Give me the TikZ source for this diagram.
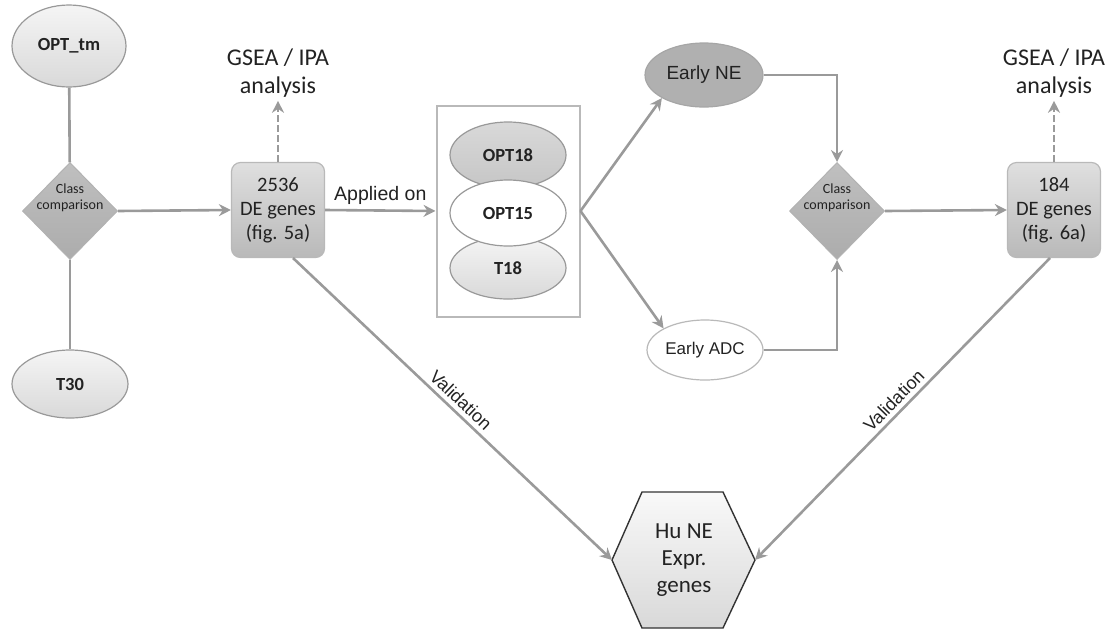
\documentclass[tikz,border=0pt]{standalone}
\usepackage{fontspec}
\setmainfont{Carlito}
\newfontfamily\arialf{Liberation Sans}
\usetikzlibrary{shapes.geometric,arrows.meta}
\definecolor{linegray}{HTML}{9A9A9A}
\definecolor{txt}{HTML}{222222}
\begin{document}
\begin{tikzpicture}[x=1pt,y=-1pt,
  conn/.style={draw=linegray, line width=2.6pt},
  arr/.style={conn, -{Stealth[length=12pt,width=12pt,inset=4pt]}},
  dasharr/.style={arr, dashed, dash pattern=on 7pt off 3pt},
  oval/.style={ellipse, draw=gray!80, line width=1.2pt, inner sep=0pt, text=txt, font=\bfseries\fontsize{18.5}{20}\selectfont},
  greyoval/.style={oval, top color=gray!8, bottom color=gray!30},
  degbox/.style={rectangle, rounded corners=9pt, draw=gray!55, line width=1.2pt, top color=gray!25, bottom color=gray!55, minimum width=93pt, minimum height=95pt, align=center, text=txt, font=\fontsize{20.5}{24}\selectfont},
  decision/.style={diamond, draw=gray!60, line width=1pt, top color=gray!50, bottom color=gray!65, minimum width=95pt, minimum height=97pt, inner sep=0pt, aspect=1},
  dlabel/.style={align=center, text=txt, font=\fontsize{14}{16}\selectfont},
  gsea/.style={align=center, text=txt, font=\fontsize{24}{28}\selectfont},
  arial/.style={text=txt, font=\arialf\fontsize{18}{20}\selectfont}
]
\useasboundingbox (0,0) rectangle (1110,630);

% left block
\node[greyoval, minimum width=114pt, minimum height=82pt] (opttm) at (69,46) {OPT\_tm};
\node[decision] (cc1) at (70,211) {};
\node[dlabel] (cc1t) at (70,198) {Class\\comparison};
\node[greyoval, minimum width=116pt, minimum height=68pt] (t30) at (70,384) {T30};
\draw[conn] (opttm) -- (cc1);
\draw[conn] (cc1) -- (t30);

% DE box 1
\node[degbox] (de1) at (278,210) {2536\\DE genes\\(fig. 5a)};
\node[gsea] (gsea1) at (278,73) {GSEA / IPA\\analysis};
\draw[dasharr] (de1.north) -- (gsea1.south);
\draw[arr] (cc1.east) -- (de1.west);

% applied on
\node[draw=gray!55, line width=2pt, minimum width=143pt, minimum height=211pt, inner sep=0pt] (set) at (508,211) {};
\draw[arr] (de1.east) -- node[above=1pt, text=txt, font=\arialf\fontsize{19.5}{21}\selectfont] {Applied on} (set.west);
\node[oval, top color=gray!30, bottom color=gray!45, minimum width=116pt, minimum height=66pt] (opt18) at (508,155) {OPT18};
\node[greyoval, minimum width=116pt, minimum height=62pt] (t18) at (508,268) {T18};
\node[oval, fill=white, minimum width=116pt, minimum height=66pt] (opt15) at (508,213) {OPT15};

% early NE / ADC
\node[ellipse, draw=gray!70, line width=1.2pt, fill=gray!62, minimum width=118pt, minimum height=64pt, inner sep=0pt, text=txt, font=\arialf\fontsize{19}{21}\selectfont] (ene) at (704,75) {Early NE};
\node[ellipse, draw=gray!55, line width=1.2pt, fill=white, minimum width=116pt, minimum height=60pt, inner sep=0pt, text=txt, font=\arialf\fontsize{17}{19}\selectfont] (eadc) at (705,350) {Early ADC};
\coordinate (split) at (set.east);
\draw[arr] (split) -- (ene.south west);
\draw[arr] (split) -- (eadc.north west);

% decision 2
\node[decision] (cc2) at (837,211) {};
\node[dlabel] (cc2t) at (837,198) {Class\\comparison};
\draw[arr] (ene.east) -| (cc2.north);
\draw[arr] (eadc.east) -| (cc2.south);

% DE box 2
\node[degbox] (de2) at (1054,210) {184\\DE genes\\(fig. 6a)};
\node[gsea] (gsea2) at (1054,73) {GSEA / IPA\\analysis};
\draw[dasharr] (de2.north) -- (gsea2.south);
\draw[arr] (cc2.east) -- (de2.west);

% hexagon
\coordinate (hexL) at (612,560);
\coordinate (hexR) at (755,560);
\draw[draw=black!80, line width=1.4pt, top color=gray!5, bottom color=gray!30]
  (hexL) -- (642,492) -- (723,492) -- (hexR) -- (723,628) -- (642,628) -- cycle;
\node[align=center, text=txt, font=\fontsize{23}{27}\selectfont] (hex) at (684,560) {Hu NE\\Expr.\\genes};

% validation
\coordinate (v1) at (293,258);
\coordinate (v2) at (1050,258);
\draw[arr] (v1) -- node[arial, sloped, above=1pt, pos=0.5] {Validation} (hexL);
\draw[arr] (v2) -- node[arial, sloped, above=1pt, pos=0.5] {Validation} (hexR);
\end{tikzpicture}
\end{document}
